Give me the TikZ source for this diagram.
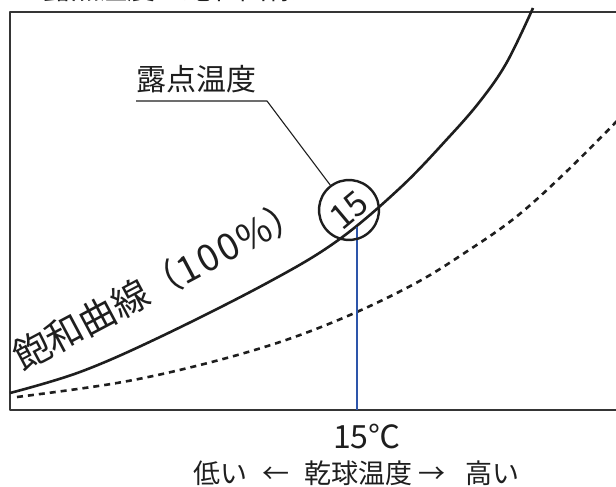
\documentclass[tikz,border=0pt]{standalone}
\usepackage{fontspec}
\setmainfont{Noto Sans CJK JP}
\definecolor{blueline}{RGB}{45,85,170}
\definecolor{ink}{RGB}{30,30,30}
\begin{document}
\begin{tikzpicture}[x=1pt,y=-1pt,line join=round,
  frame/.style={draw=ink!90,line width=1.3pt},
  satcurve/.style={draw=ink,line width=2.6pt},
  dashcurve/.style={draw=ink,line width=2.6pt,dash pattern=on 6pt off 5pt},
  leader/.style={draw=ink,line width=1.1pt},
  vline/.style={draw=blueline,line width=2.2pt},
  txt/.style={inner sep=0pt,text=ink},
  f26/.style={font=\fontsize{27pt}{30pt}\selectfont},
  f28/.style={font=\fontsize{28pt}{32pt}\selectfont},
  f30/.style={font=\fontsize{30pt}{34pt}\selectfont},
  f32/.style={font=\fontsize{32pt}{36pt}\selectfont},
  f34/.style={font=\fontsize{34pt}{36pt}\selectfont},
  f37/.style={font=\fontsize{37pt}{40pt}\selectfont}]
\useasboundingbox (0,0) rectangle (616,487);
\begin{scope}
  \clip (0,0) rectangle (616,487);
  \node[txt,f28,anchor=base west] (title) at (15,0) {■露点温度と飽和曲線};
  \node[txt,f28,anchor=base west] (fig) at (560,-2) {図1};
  \draw[frame] (616,12) -- (10,12) -- (10,410) -- (616,410);
  \draw[satcurve] plot[smooth,tension=0.6] coordinates {(10,393) (80,372) (160,337) (267,283) (337,241) (400,188) (449,137) (481,100) (507,62) (533,8)};
  \draw[dashcurve] plot[smooth,tension=0.6] coordinates {(17,397) (117,383) (200,365) (280,342) (350,315) (416,283) (466,252) (516,217) (566,172) (618,120)};
\end{scope}
% dew point marker
\coordinate (vtop) at (357,227);
\coordinate (vbot) at (357,410);
\draw[vline] (vtop) -- (vbot);
\node[circle,draw=ink,line width=2.4pt,minimum size=60pt,inner sep=0pt,f34,text=ink,rotate=40] (c15) at (349,210) {15};
\node[txt,f30,anchor=base west] (dew) at (136,91) {露点温度};
\coordinate (ul) at (136,101);
\coordinate (ur) at (267,101);
\draw[leader] (ul) -- (ur) -- (c15);
% curve label
\node[txt,f37,anchor=base west,rotate=28] (sat) at (22,372) {飽和曲線（1\kern2pt 0\kern2pt 0\kern2pt\%）};
% axis labels
\node[txt,f32,anchor=base west] (t15) at (333,448) {15℃};
\node[txt,f26,anchor=base] (lo) at (220,483) {低い};
\node[txt,f26,anchor=base] (al) at (276,483) {←};
\node[txt,f26,anchor=base] (dry) at (358,483) {乾球温度};
\node[txt,f26,anchor=base] (ar) at (432,483) {→};
\node[txt,f26,anchor=base] (hi) at (492,483) {高い};
\end{tikzpicture}
\end{document}
